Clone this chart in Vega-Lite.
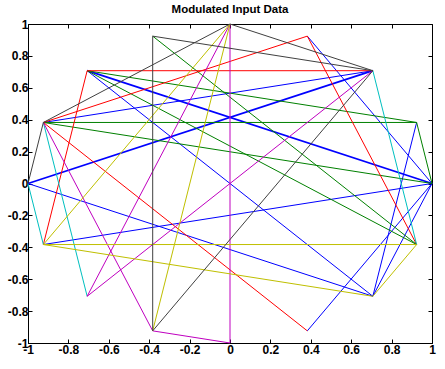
{
  "$schema": "https://vega.github.io/schema/vega-lite/v6.json",
  "width": 404,
  "height": 319,
  "autosize": {"type": "none"},
  "padding": {"left": 28, "top": 24, "right": 13, "bottom": 26},
  "background": "white",
  "title": {"text": "Modulated Input Data", "fontSize": 11.5, "fontWeight": "bold", "font": "Liberation Sans", "color": "black", "anchor": "middle", "baseline": "alphabetic", "offset": 10, "dy": 16, "frame": "group"},
  "datasets": {
    "paths": [
      {"s": "b1", "c": "b", "n": 1, "o": 0, "p": 7}, {"s": "b1", "c": "b", "n": 1, "o": 1, "p": 2},
      {"s": "b2", "c": "b", "n": 1, "o": 0, "p": 8}, {"s": "b2", "c": "b", "n": 1, "o": 1, "p": 14}, {"s": "b2", "c": "b", "n": 1, "o": 2, "p": 6},
      {"s": "b3", "c": "b", "n": 1, "o": 0, "p": 9}, {"s": "b3", "c": "b", "n": 1, "o": 1, "p": 0}, {"s": "b3", "c": "b", "n": 1, "o": 2, "p": 3},
      {"s": "b4", "c": "b", "n": 1, "o": 0, "p": 13}, {"s": "b4", "c": "b", "n": 1, "o": 1, "p": 0}, {"s": "b4", "c": "b", "n": 1, "o": 2, "p": 14}, {"s": "b4", "c": "b", "n": 1, "o": 3, "p": 1},
      {"s": "b5", "c": "b", "n": 2, "o": 0, "p": 2}, {"s": "b5", "c": "b", "n": 2, "o": 1, "p": 8},
      {"s": "b6", "c": "b", "n": 2, "o": 0, "p": 6}, {"s": "b6", "c": "b", "n": 2, "o": 1, "p": 0},
      {"s": "g1", "c": "g", "n": 1, "o": 0, "p": 5}, {"s": "g1", "c": "g", "n": 1, "o": 1, "p": 15}, {"s": "g1", "c": "g", "n": 1, "o": 2, "p": 6}, {"s": "g1", "c": "g", "n": 1, "o": 3, "p": 1}, {"s": "g1", "c": "g", "n": 1, "o": 4, "p": 7}, {"s": "g1", "c": "g", "n": 1, "o": 5, "p": 0}, {"s": "g1", "c": "g", "n": 1, "o": 6, "p": 1},
      {"s": "r1", "c": "r", "n": 1, "o": 0, "p": 9}, {"s": "r1", "c": "r", "n": 1, "o": 1, "p": 6}, {"s": "r1", "c": "r", "n": 1, "o": 2, "p": 2},
      {"s": "r2", "c": "r", "n": 1, "o": 0, "p": 13}, {"s": "r2", "c": "r", "n": 1, "o": 1, "p": 7}, {"s": "r2", "c": "r", "n": 1, "o": 2, "p": 3}, {"s": "r2", "c": "r", "n": 1, "o": 3, "p": 15},
      {"s": "c1", "c": "c", "n": 1, "o": 0, "p": 2}, {"s": "c1", "c": "c", "n": 1, "o": 1, "p": 15},
      {"s": "c2", "c": "c", "n": 1, "o": 0, "p": 10}, {"s": "c2", "c": "c", "n": 1, "o": 1, "p": 7},
      {"s": "c3", "c": "c", "n": 1, "o": 0, "p": 8}, {"s": "c3", "c": "c", "n": 1, "o": 1, "p": 9},
      {"s": "m1", "c": "m", "n": 1, "o": 0, "p": 2}, {"s": "m1", "c": "m", "n": 1, "o": 1, "p": 10}, {"s": "m1", "c": "m", "n": 1, "o": 2, "p": 4}, {"s": "m1", "c": "m", "n": 1, "o": 3, "p": 12}, {"s": "m1", "c": "m", "n": 1, "o": 4, "p": 11}, {"s": "m1", "c": "m", "n": 1, "o": 5, "p": 7},
      {"s": "y1", "c": "y", "n": 1, "o": 0, "p": 11}, {"s": "y1", "c": "y", "n": 1, "o": 1, "p": 4}, {"s": "y1", "c": "y", "n": 1, "o": 2, "p": 9}, {"s": "y1", "c": "y", "n": 1, "o": 3, "p": 14}, {"s": "y1", "c": "y", "n": 1, "o": 4, "p": 15}, {"s": "y1", "c": "y", "n": 1, "o": 5, "p": 9},
      {"s": "k1", "c": "k", "n": 1, "o": 0, "p": 8}, {"s": "k1", "c": "k", "n": 1, "o": 1, "p": 7}, {"s": "k1", "c": "k", "n": 1, "o": 2, "p": 4}, {"s": "k1", "c": "k", "n": 1, "o": 3, "p": 2}, {"s": "k1", "c": "k", "n": 1, "o": 4, "p": 5}, {"s": "k1", "c": "k", "n": 1, "o": 5, "p": 11}, {"s": "k1", "c": "k", "n": 1, "o": 6, "p": 2}
    ]
  },
  "data": {"name": "paths"},
  "transform": [
    {"lookup": "p", "from": {"data": {"values": [
      {"p": 0, "x": 1, "y": 0},
      {"p": 1, "x": 0.9239, "y": 0.3827},
      {"p": 2, "x": 0.7071, "y": 0.7071},
      {"p": 3, "x": 0.3827, "y": 0.9239},
      {"p": 4, "x": 0, "y": 1},
      {"p": 5, "x": -0.3827, "y": 0.9239},
      {"p": 6, "x": -0.7071, "y": 0.7071},
      {"p": 7, "x": -0.9239, "y": 0.3827},
      {"p": 8, "x": -1, "y": 0},
      {"p": 9, "x": -0.9239, "y": -0.3827},
      {"p": 10, "x": -0.7071, "y": -0.7071},
      {"p": 11, "x": -0.3827, "y": -0.9239},
      {"p": 12, "x": 0, "y": -1},
      {"p": 13, "x": 0.3827, "y": -0.9239},
      {"p": 14, "x": 0.7071, "y": -0.7071},
      {"p": 15, "x": 0.9239, "y": -0.3827}
    ]}, "key": "p", "fields": ["x", "y"]}}
  ],
  "layer": [
    {
      "mark": {"type": "line"},
      "encoding": {
        "x": {"field": "x", "type": "quantitative", "scale": {"domain": [-1, 1], "nice": false, "zero": false},
              "axis": {"orient": "bottom", "values": [-1, -0.8, -0.6, -0.4, -0.2, 0, 0.2, 0.4, 0.6, 0.8, 1], "format": ".1~f", "labelExpr": "replace(datum.label, '\u2212', '-')", "tickSize": -4, "labelPadding": 5, "title": null, "labelFlush": false, "labelOverlap": false}},
        "y": {"field": "y", "type": "quantitative", "scale": {"domain": [-1, 1], "nice": false, "zero": false},
              "axis": {"orient": "left", "values": [-1, -0.8, -0.6, -0.4, -0.2, 0, 0.2, 0.4, 0.6, 0.8, 1], "format": ".1~f", "labelExpr": "replace(datum.label, '\u2212', '-')", "tickSize": -4, "labelPadding": 4, "title": null, "labelFlush": false, "labelOverlap": false}},
        "color": {"field": "c", "type": "nominal", "scale": {"domain": ["b", "g", "r", "c", "m", "y", "k"], "range": ["#0000ff", "#008000", "#ff0000", "#00bfbf", "#bf00bf", "#bfbf00", "#404040"]}, "legend": null},
        "strokeWidth": {"field": "n", "type": "quantitative", "scale": {"domain": [1, 2], "range": [1, 1.8]}, "legend": null},
        "detail": {"field": "s", "type": "nominal"},
        "order": {"field": "o", "type": "quantitative"}
      }
    },
    {
      "mark": {"type": "line", "opacity": 0},
      "encoding": {
        "x": {"field": "x", "type": "quantitative", "axis": {"orient": "top", "values": [-1, -0.8, -0.6, -0.4, -0.2, 0, 0.2, 0.4, 0.6, 0.8, 1], "labels": false, "tickSize": -4, "title": null, "minExtent": 0, "maxExtent": 0, "domain": false}},
        "y": {"field": "y", "type": "quantitative", "axis": {"orient": "right", "values": [-1, -0.8, -0.6, -0.4, -0.2, 0, 0.2, 0.4, 0.6, 0.8, 1], "labels": false, "tickSize": -4, "title": null, "minExtent": 0, "maxExtent": 0, "domain": false}},
        "detail": {"field": "s", "type": "nominal"},
        "order": {"field": "o", "type": "quantitative"}
      }
    }
  ],
  "resolve": {"axis": {"x": "independent", "y": "independent"}},
  "config": {
    "view": {"stroke": "black", "strokeWidth": 1},
    "axis": {"grid": false, "domainColor": "black", "domainWidth": 1, "tickColor": "black", "tickWidth": 1, "labelColor": "black", "labelFont": "Liberation Sans", "labelFontSize": 12, "labelFontWeight": "bold"}
  }
}
